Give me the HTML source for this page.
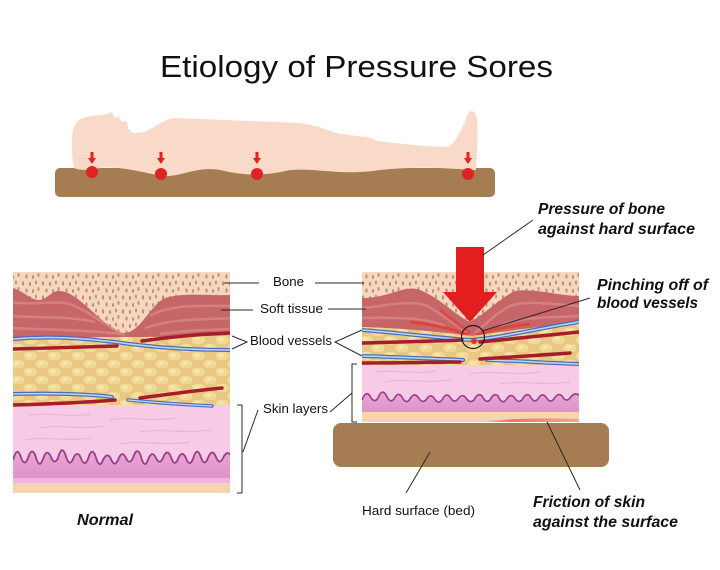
<!DOCTYPE html>
<html><head><meta charset="utf-8"><style>
html,body{margin:0;padding:0;background:#fff;}
svg{display:block;}
text{font-family:"Liberation Sans",Arial,sans-serif;fill:#111;}
.lbl{font-size:13px;}
.bi{font-size:16px;font-weight:bold;font-style:italic;}
</style></head><body>
<svg width="720" height="570" viewBox="0 0 720 570" xmlns="http://www.w3.org/2000/svg">
<defs>
<pattern id="dots" width="20" height="14" patternUnits="userSpaceOnUse">
<ellipse cx="3" cy="3.5" rx="1.1" ry="2.2" fill="#b0957c"/>
<ellipse cx="10" cy="4" rx="1.1" ry="2" fill="#b0957c"/>
<ellipse cx="16" cy="2.5" rx="1" ry="2" fill="#b0957c"/>
<ellipse cx="6.5" cy="10.5" rx="1.1" ry="2.1" fill="#b0957c"/>
<ellipse cx="13" cy="11" rx="1" ry="2" fill="#b0957c"/>
<ellipse cx="18.5" cy="9" rx="1" ry="2" fill="#b0957c"/>
</pattern>
<pattern id="fat" width="24" height="16" patternUnits="userSpaceOnUse">
<rect width="24" height="16" fill="#e7c782"/>
<ellipse cx="6" cy="4" rx="7" ry="4.5" fill="#f0da96"/>
<ellipse cx="18" cy="12" rx="7" ry="4.5" fill="#f0da96"/>
<ellipse cx="5" cy="3" rx="3" ry="2" fill="#f6e6aa"/>
<ellipse cx="17" cy="11" rx="3" ry="2" fill="#f6e6aa"/>
</pattern>
<linearGradient id="derm" x1="0" y1="0" x2="0" y2="1">
<stop offset="0" stop-color="#e8a8d4"/><stop offset="1" stop-color="#df92c8"/>
</linearGradient>
<linearGradient id="fric" x1="0" y1="0" x2="1" y2="0">
<stop offset="0" stop-color="#f06a40" stop-opacity="0"/>
<stop offset="0.3" stop-color="#f05a3a" stop-opacity="0.8"/>
<stop offset="1" stop-color="#f07a50" stop-opacity="0.5"/>
</linearGradient>
<clipPath id="cl"><rect x="13" y="272" width="217" height="221"/></clipPath>
<clipPath id="cr"><rect x="362" y="272" width="217" height="150"/></clipPath>
</defs>

<rect width="720" height="570" fill="#fff"/>

<!-- Title -->
<text x="160" y="77" font-size="31" textLength="393" lengthAdjust="spacingAndGlyphs">Etiology of Pressure Sores</text>

<!-- Top figure -->
<rect x="55" y="168" width="440" height="29" rx="5" fill="#a67c52"/>
<path d="M72,140 C72,128 76,120 83,118 C90,116 100,115 108,114 L112,112 L115,118 L118,116 L122,122 L127,121 L128,128 L132,133 C138,133 142,133 147,131 C158,125 165,119 175,118 C200,119 250,121 300,123 C315,125 325,129 333,132 C345,135 357,136 367,137 C372,138 375,140 378,141 C395,143 420,146 443,147 C448,147 450,146 453,143 C458,137 462,128 465,122 C467,116 468,112 471,111 C474,111 476,113 477,120 C478,135 477,155 476,170 C440,168 420,166 380,170 C340,176 320,168 290,170 C265,176 245,176 220,170 C195,166 180,178 161,176 C135,170 115,166 100,168 C90,170 80,171 74,168 C72,160 72,150 72,140 Z" fill="#f9d9c7"/>
<g fill="#e02222">
<circle cx="92" cy="172" r="6"/><circle cx="161" cy="174" r="6"/><circle cx="257" cy="174" r="6"/><circle cx="468" cy="174" r="6"/>
<polygon points="90.5,152 93.5,152 93.5,158 96,158 92,164 88,158 90.5,158"/>
<polygon points="159.5,152 162.5,152 162.5,158 165,158 161,164 157,158 159.5,158"/>
<polygon points="255.5,152 258.5,152 258.5,158 261,158 257,164 253,158 255.5,158"/>
<polygon points="466.5,152 469.5,152 469.5,158 472,158 468,164 464,158 466.5,158"/>
</g>

<!-- LEFT PANEL -->
<g clip-path="url(#cl)">
<rect x="13" y="272" width="217" height="221" fill="#f8d5bd"/>
<rect x="13" y="272" width="217" height="66" fill="url(#dots)"/>
<path d="M13,288 C25,292 30,300 40,300 C48,299 52,290 60,291 C80,292 105,330 123,333 C140,334 150,305 165,298 C185,292 210,296 230,295 L230,336 C180,338 100,336 13,339 Z" fill="#c66668"/>
<g fill="none" stroke="#dc8c88" stroke-width="2.5" opacity="0.7">
<path d="M13,302 C30,306 50,300 70,304 C90,312 105,325 125,336"/>
<path d="M13,316 C40,318 70,316 95,322"/>
<path d="M13,328 C50,330 90,330 120,334"/>
<path d="M150,316 C170,304 200,306 230,306"/>
<path d="M145,328 C175,318 200,320 230,318"/>
<path d="M160,334 C190,330 210,330 230,329"/>
</g>
<path d="M13,339 C100,336 180,338 230,335 L230,406 L13,406 Z" fill="url(#fat)"/>
<rect x="13" y="405" width="217" height="78" fill="#f7cbe5"/>
<g fill="none" stroke="#e0b4cf" stroke-width="1.2" opacity="0.8">
<path d="M30,415 C50,412 70,418 90,414"/><path d="M110,420 C130,416 150,422 175,418"/>
<path d="M40,428 C60,424 80,430 105,426"/><path d="M140,432 C160,428 185,434 210,430"/>
<path d="M25,440 C45,436 70,442 90,438"/><path d="M120,444 C140,440 165,446 190,442"/>
</g>
<path d="M13,460 Q16.75,446 20.5,456 Q24.25,468 28,458 Q31.75,446 35.5,456 Q39.25,470 43,459 Q46.75,448 50.5,456 Q54.25,466 58,458 Q61.75,444 65.5,455 Q69.25,468 73,459 Q76.75,450 80.5,457 Q84.25,468 88,459 Q91.75,446 95.5,456 Q99.25,470 103,460 Q106.75,452 110.5,458 Q114.25,468 118,460 Q121.75,450 125.5,457 Q129.25,466 133,458 Q136.75,446 140.5,455 Q144.25,470 148,460 Q151.75,450 155.5,457 Q159.25,466 163,458 Q166.75,448 170.5,456 Q174.25,468 178,459 Q181.75,450 185.5,457 Q189.25,468 193,459 Q196.75,446 200.5,456 Q204.25,468 208,458 Q211.75,448 215.5,456 Q219.25,466 223,458 Q226.75,450 230.5,455 L230.5,478 L13,478 Z" fill="url(#derm)"/>
<path d="M13,460 Q16.75,446 20.5,456 Q24.25,468 28,458 Q31.75,446 35.5,456 Q39.25,470 43,459 Q46.75,448 50.5,456 Q54.25,466 58,458 Q61.75,444 65.5,455 Q69.25,468 73,459 Q76.75,450 80.5,457 Q84.25,468 88,459 Q91.75,446 95.5,456 Q99.25,470 103,460 Q106.75,452 110.5,458 Q114.25,468 118,460 Q121.75,450 125.5,457 Q129.25,466 133,458 Q136.75,446 140.5,455 Q144.25,470 148,460 Q151.75,450 155.5,457 Q159.25,466 163,458 Q166.75,448 170.5,456 Q174.25,468 178,459 Q181.75,450 185.5,457 Q189.25,468 193,459 Q196.75,446 200.5,456 Q204.25,468 208,458 Q211.75,448 215.5,456 Q219.25,466 223,458 Q226.75,450 230.5,455" fill="none" stroke="#9a3c8e" stroke-width="1.8"/>
<rect x="13" y="478" width="217" height="5" fill="#efb6da"/>
<rect x="13" y="483" width="217" height="10" fill="#f6d4b0"/>
<!-- vessels -->
<g fill="none" stroke-linecap="round">
<path d="M13,339 C60,335 100,340 130,344 C170,349 200,350 230,350" stroke="#4a6fb8" stroke-width="4"/>
<path d="M13,339 C60,335 100,340 130,344 C170,349 200,350 230,350" stroke="#c0d4f5" stroke-width="1.5"/>
<path d="M13,349 C50,348 90,347 117,346" stroke="#a81c2c" stroke-width="3.5"/>
<path d="M142,341 C170,337 200,334 230,333" stroke="#a81c2c" stroke-width="3.5"/>
<path d="M13,394 C50,393 90,394 112,397" stroke="#4a6fb8" stroke-width="4"/>
<path d="M13,394 C50,393 90,394 112,397" stroke="#c0d4f5" stroke-width="1.5"/>
<path d="M128,400 C160,403 190,405 212,406" stroke="#4a6fb8" stroke-width="3.5"/>
<path d="M128,400 C160,403 190,405 212,406" stroke="#c0d4f5" stroke-width="1.3"/>
<path d="M13,405 C50,404 90,402 115,400" stroke="#a81c2c" stroke-width="3.5"/>
<path d="M140,398 C170,394 200,390 222,388" stroke="#a81c2c" stroke-width="3.5"/>
</g>
</g>

<!-- RIGHT PANEL -->
<g clip-path="url(#cr)">
<rect x="362" y="272" width="217" height="150" fill="#f8d5bd"/>
<rect x="362" y="272" width="217" height="60" fill="url(#dots)"/>
<path d="M362,298 C375,298 385,295 395,292 C405,289 412,287 420,290 C440,298 455,315 470,322 C485,314 500,298 515,291 C535,288 560,296 579,296 L579,324 C540,326 500,332 472,336 C440,332 400,328 362,327 Z" fill="#c66668"/>
<g fill="none" stroke-width="2.5">
<path d="M362,308 C385,306 410,300 425,305 C440,312 455,325 468,333" stroke="#dc8c88" opacity="0.7"/>
<path d="M362,318 C390,318 420,316 445,326" stroke="#dc8c88" opacity="0.7"/>
<path d="M579,306 C550,304 525,300 510,306 C495,314 485,325 475,333" stroke="#dc8c88" opacity="0.7"/>
<path d="M579,316 C550,318 520,316 500,326" stroke="#dc8c88" opacity="0.7"/>
<path d="M410,322 C430,324 450,328 468,335" stroke="#e53a34" stroke-width="3" opacity="0.8"/>
<path d="M440,310 C450,318 460,326 470,333" stroke="#e53a34" stroke-width="3" opacity="0.7"/>
<path d="M530,324 C510,326 490,330 476,335" stroke="#e53a34" stroke-width="3" opacity="0.7"/>
</g>
<path d="M362,327 C400,328 440,332 472,336 C500,332 540,326 579,324 L579,366 L362,366 Z" fill="url(#fat)"/>
<rect x="362" y="365" width="217" height="48" fill="#f7cbe5"/>
<g fill="none" stroke="#e0b4cf" stroke-width="1.2" opacity="0.8">
<path d="M375,372 C395,369 415,375 435,371"/><path d="M470,374 C490,370 515,376 540,372"/>
<path d="M385,382 C405,378 425,384 450,380"/><path d="M500,384 C520,380 545,386 570,382"/>
</g>
<path d="M362,400 Q366,390 370,396 Q374,404 378,398 Q382,388 386,395 Q390,404 394,399 Q398,391 402,397 Q406,405 410,399 Q414,392 418,397 Q422,404 426,400 Q430,393 434,398 Q438,405 442,400 Q446,392 450,397 Q454,404 458,399 Q462,393 466,398 Q470,404 474,400 Q478,392 482,396 Q486,404 490,400 Q494,392 498,396 Q502,405 506,400 Q510,393 514,397 Q518,404 522,400 Q526,392 530,396 Q534,404 538,399 Q542,392 546,397 Q550,404 554,399 Q558,392 562,396 Q566,403 570,398 Q574,392 579,395 L579,412 L362,412 Z" fill="url(#derm)"/>
<path d="M362,400 Q366,390 370,396 Q374,404 378,398 Q382,388 386,395 Q390,404 394,399 Q398,391 402,397 Q406,405 410,399 Q414,392 418,397 Q422,404 426,400 Q430,393 434,398 Q438,405 442,400 Q446,392 450,397 Q454,404 458,399 Q462,393 466,398 Q470,404 474,400 Q478,392 482,396 Q486,404 490,400 Q494,392 498,396 Q502,405 506,400 Q510,393 514,397 Q518,404 522,400 Q526,392 530,396 Q534,404 538,399 Q542,392 546,397 Q550,404 554,399 Q558,392 562,396 Q566,403 570,398 Q574,392 579,395" fill="none" stroke="#9a3c8e" stroke-width="1.6"/>
<rect x="362" y="412" width="217" height="10" fill="#f6d4b0"/>
<path d="M480,422 C510,418 550,418 579,419 L579,422 Z" fill="url(#fric)"/>
<g fill="none" stroke-linecap="round">
<path d="M362,330 C400,333 440,338 470,340 C500,338 540,328 579,322" stroke="#4a6fb8" stroke-width="4"/>
<path d="M362,330 C400,333 440,338 470,340 C500,338 540,328 579,322" stroke="#c0d4f5" stroke-width="1.5"/>
<path d="M362,343 C400,342 440,341 462,340" stroke="#a81c2c" stroke-width="3.5"/>
<path d="M480,342 C510,339 550,335 579,332" stroke="#a81c2c" stroke-width="3.5"/>
<path d="M362,356 C400,357 440,359 463,360" stroke="#4a6fb8" stroke-width="4"/>
<path d="M362,356 C400,357 440,359 463,360" stroke="#c0d4f5" stroke-width="1.5"/>
<path d="M487,360 C520,361 550,363 579,364" stroke="#4a6fb8" stroke-width="4"/>
<path d="M487,360 C520,361 550,363 579,364" stroke="#c0d4f5" stroke-width="1.5"/>
<path d="M362,363 C400,363 440,362 460,362" stroke="#a81c2c" stroke-width="3.5"/>
<path d="M480,359 C510,357 545,355 570,353" stroke="#a81c2c" stroke-width="3.5"/>
</g>
<circle cx="474" cy="341" r="3" fill="#e03030"/>
</g>

<!-- big red arrow -->
<polygon points="456,247 484,247 484,292 497,292 470,322 443,292 456,292" fill="#e31e1e"/>
<!-- pinch circle -->
<circle cx="473" cy="337" r="11.5" fill="none" stroke="#1a1a1a" stroke-width="1.2"/>

<!-- bed -->
<rect x="333" y="423" width="276" height="44" rx="8" fill="#a67c52"/>

<!-- connector lines -->
<g stroke="#2a2a2a" stroke-width="1" fill="none">
<line x1="224" y1="283" x2="259" y2="283"/>
<line x1="315" y1="283" x2="364" y2="283"/>
<line x1="221" y1="310" x2="253" y2="310"/>
<line x1="328" y1="309" x2="366" y2="309"/>
<polyline points="232,336 247,342 232,349"/>
<polyline points="362,330 335,342 362,356"/>
<line x1="258" y1="410" x2="243" y2="452"/>
<polyline points="237,405 242,405 242,493 237,493"/>
<line x1="330" y1="412" x2="352" y2="393"/>
<polyline points="357,364 352,364 352,422 357,422"/>
<line x1="483" y1="255" x2="533" y2="220"/>
<line x1="482" y1="331" x2="590" y2="298"/>
<line x1="406" y1="493" x2="430" y2="452"/>
<line x1="547" y1="422" x2="580" y2="490"/>
</g>

<!-- labels -->
<text class="lbl" x="273" y="286" textLength="31" lengthAdjust="spacingAndGlyphs">Bone</text>
<text class="lbl" x="260" y="313" textLength="63" lengthAdjust="spacingAndGlyphs">Soft tissue</text>
<text class="lbl" x="250" y="345" textLength="82" lengthAdjust="spacingAndGlyphs">Blood vessels</text>
<text class="lbl" x="263" y="413" textLength="65" lengthAdjust="spacingAndGlyphs">Skin layers</text>
<text class="lbl" x="362" y="515" textLength="113" lengthAdjust="spacingAndGlyphs">Hard surface (bed)</text>

<text class="bi" x="538" y="214" textLength="127" lengthAdjust="spacingAndGlyphs">Pressure of bone</text>
<text class="bi" x="538" y="234" textLength="157" lengthAdjust="spacingAndGlyphs">against hard surface</text>
<text class="bi" x="597" y="290" textLength="111" lengthAdjust="spacingAndGlyphs">Pinching off of</text>
<text class="bi" x="597" y="308" textLength="101" lengthAdjust="spacingAndGlyphs">blood vessels</text>
<text class="bi" x="533" y="507" textLength="112" lengthAdjust="spacingAndGlyphs">Friction of skin</text>
<text class="bi" x="533" y="527" textLength="145" lengthAdjust="spacingAndGlyphs">against the surface</text>
<text class="bi" x="77" y="525" textLength="56" lengthAdjust="spacingAndGlyphs">Normal</text>
</svg>
</body></html>
